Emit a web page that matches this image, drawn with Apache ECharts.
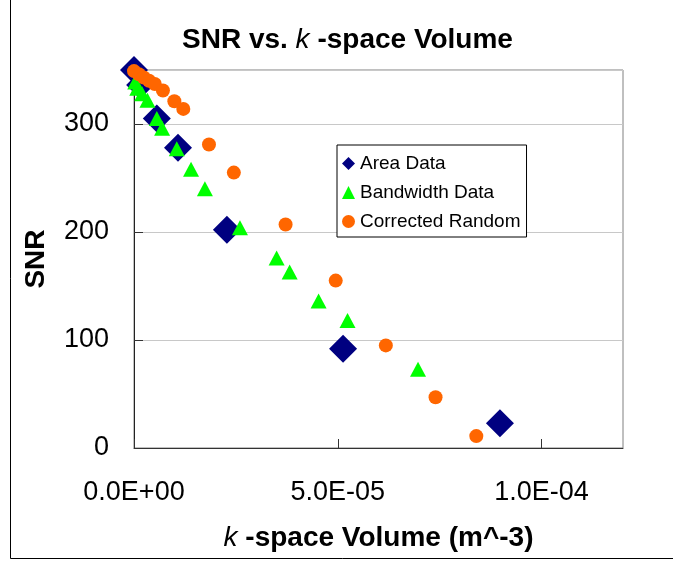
<!DOCTYPE html>
<html>
<head>
<meta charset="utf-8">
<script src="https://cdn.jsdelivr.net/npm/echarts@6/dist/echarts.min.js"></script>
<style>html,body{margin:0;padding:0;background:#fff;}#chart{width:673px;height:561px;}</style>
</head>
<body>
<div id="chart"></div>
<script>
// Area Data (diamonds)
const areaX = [0, 1.5e-6, 5.6e-6, 1.08e-5, 2.28e-5, 5.13e-5, 8.98e-5];
const areaY = [350, 336, 305, 278, 202, 92, 23];
// Bandwidth Data (triangles)
const bwX = [0.3e-6, 0.8e-6, 2.0e-6, 3.3e-6, 5.6e-6, 6.9e-6, 1.05e-5, 1.4e-5, 1.74e-5, 2.6e-5, 3.5e-5, 3.82e-5, 4.53e-5, 5.24e-5, 6.97e-5];
const bwY = [339, 333, 328, 322, 305, 296, 277, 258, 240, 204, 176, 163, 136, 118, 73];
// Corrected Random (circles)
const crX = [0, 1.2e-6, 2.4e-6, 3.7e-6, 5.1e-6, 7.1e-6, 9.9e-6, 1.21e-5, 1.84e-5, 2.45e-5, 3.72e-5, 4.95e-5, 6.18e-5, 7.4e-5, 8.4e-5];
const crY = [349, 346, 343, 340, 337, 331, 321, 314, 281, 255, 207, 155, 95, 47, 11];
// Axis ticks
const xTicks = [0, 5e-5, 1e-4];
const yTicks = [0, 100, 200, 300];

const FONT = '"Liberation Sans", Arial, sans-serif';
function zip(a, b) { return a.map((v, i) => [v, b[i]]); }
function sci(v) {
  const s = v.toExponential(1).split('e');
  const e = parseInt(s[1], 10);
  const sign = e < 0 ? '-' : '+';
  const ab = Math.abs(e);
  return s[0] + 'E' + sign + (ab < 10 ? '0' + ab : '' + ab);
}
function isTick(v, list) { return list.some(t => Math.abs(t - v) < 1e-10); }

const chart = echarts.init(document.getElementById('chart'), null, {renderer: 'canvas'});
chart.setOption({
  backgroundColor: '#fff',
  animation: false,
  textStyle: {fontFamily: FONT, color: '#000'},
  graphic: [{
    type: 'rect', silent: true, z: -10,
    shape: {x: 10.5, y: -10, width: 700, height: 568.5},
    style: {fill: null, stroke: '#000', lineWidth: 1}
  }],
  title: {
    text: '{b|SNR vs. }{i|k}{b| -space Volume}',
    left: 177, top: 21,
    textStyle: {
      fontWeight: 'normal',
      rich: {
        b: {fontFamily: FONT, fontWeight: 'bold', fontSize: 28, color: '#000'},
        i: {fontFamily: FONT, fontStyle: 'italic', fontWeight: 'normal', fontSize: 28, color: '#000'}
      }
    }
  },
  grid: {left: 134, right: 50, top: 70, bottom: 113, show: true, borderColor: '#808080', borderWidth: 1},
  legend: {
    orient: 'vertical', left: 337, top: 145,
    backgroundColor: '#fff', borderColor: '#000', borderWidth: 1,
    padding: [9, 6, 6, 5], itemGap: 10, itemWidth: 13, itemHeight: 13,
    textStyle: {fontFamily: FONT, fontSize: 19, color: '#000'},
    data: [
      {name: 'Area Data', icon: 'diamond'},
      {name: 'Bandwidth Data', icon: 'triangle'},
      {name: 'Corrected Random', icon: 'circle'}
    ]
  },
  xAxis: {
    type: 'value', min: 0, max: 1.2e-4, interval: 5e-5,
    name: '{i|k}{b| -space Volume (m^-3)}',
    nameLocation: 'middle', nameGap: 76,
    nameTextStyle: {
      fontWeight: 'normal',
      rich: {
        b: {fontFamily: FONT, fontWeight: 'bold', fontSize: 28, color: '#000'},
        i: {fontFamily: FONT, fontStyle: 'italic', fontWeight: 'normal', fontSize: 28, color: '#000'}
      }
    },
    axisLine: {show: true, onZero: false, lineStyle: {color: '#333', width: 1}},
    axisTick: {show: true, inside: true, length: 9, lineStyle: {color: '#333'}},
    axisLabel: {
      fontFamily: FONT, fontSize: 27, color: '#000', margin: 31,
      showMaxLabel: false,
      formatter: v => isTick(v, xTicks) ? sci(v) : ''
    },
    splitLine: {show: false}
  },
  yAxis: {
    type: 'value', min: 0, max: 350, interval: 100,
    name: 'SNR', nameLocation: 'middle', nameGap: 84, nameRotate: 90,
    nameTextStyle: {fontFamily: FONT, fontWeight: 'bold', fontSize: 28, color: '#000'},
    axisLine: {show: true, onZero: false, lineStyle: {color: '#222', width: 1}},
    axisTick: {show: true, inside: true, length: 9, lineStyle: {color: '#333'}},
    axisLabel: {
      fontFamily: FONT, fontSize: 27, color: '#000', margin: 25,
      showMaxLabel: false,
      formatter: v => isTick(v, yTicks) ? String(v) : ''
    },
    splitLine: {show: true, lineStyle: {color: '#c8c8c8', width: 1}}
  },
  series: [
    {
      name: 'Area Data', type: 'scatter', symbol: 'diamond', symbolSize: 28,
      itemStyle: {color: '#000080', opacity: 1},
      data: zip(areaX, areaY)
    },
    {
      name: 'Bandwidth Data', type: 'scatter', symbol: 'triangle', symbolSize: [16, 15],
      itemStyle: {color: '#00ff00', opacity: 1},
      data: zip(bwX, bwY)
    },
    {
      name: 'Corrected Random', type: 'scatter', symbol: 'circle', symbolSize: 14,
      itemStyle: {color: '#ff6600', opacity: 1},
      data: zip(crX, crY)
    }
  ]
});
</script>
</body>
</html>
